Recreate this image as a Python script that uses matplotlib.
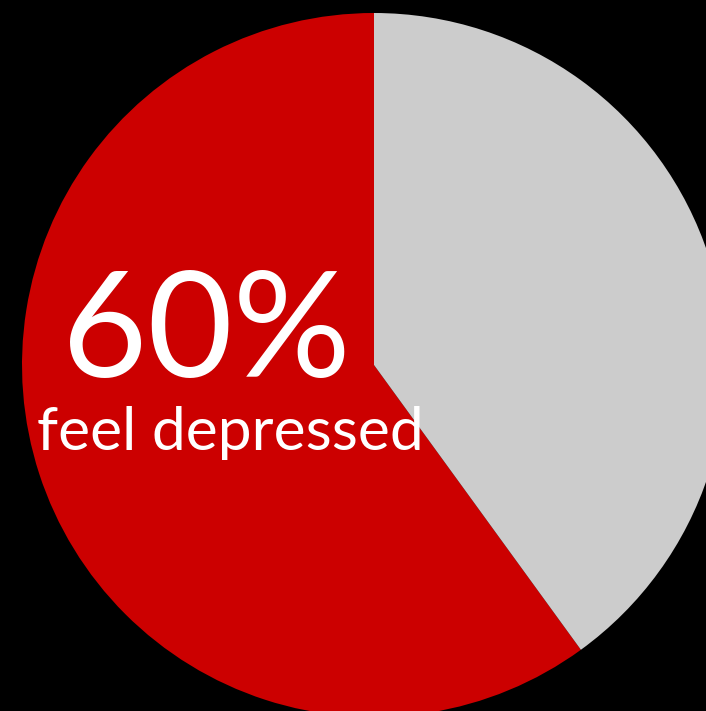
import matplotlib
matplotlib.use('Agg')
import matplotlib.pyplot as plt

labels = ['feel depressed', 'other']
shares = [60, 40]
colors = ['#cc0000', '#cccccc']
big_text = '60%'
small_text = 'feel depressed'

fig = plt.figure(figsize=(7.06, 7.11), dpi=100, facecolor='black')
ax = fig.add_axes([0, 0, 1, 1])
ax.set_facecolor('black')

# pie sits off-centre, spilling past the right and bottom edges
ax.pie(shares, colors=colors, startangle=90, counterclock=True,
       center=(374, 346), radius=352, wedgeprops={'linewidth': 0})
ax.set_xlim(0, 706)
ax.set_ylim(0, 711)
ax.set_aspect('equal')
ax.axis('off')

ax.text(206, 376, big_text, color='white', fontsize=106, family='Lato',
        ha='center', va='center')
ax.text(230, 278, small_text, color='white', fontsize=43.5, family='Lato',
        ha='center', va='center')

fig.savefig('out.png', dpi=100, facecolor='black')
